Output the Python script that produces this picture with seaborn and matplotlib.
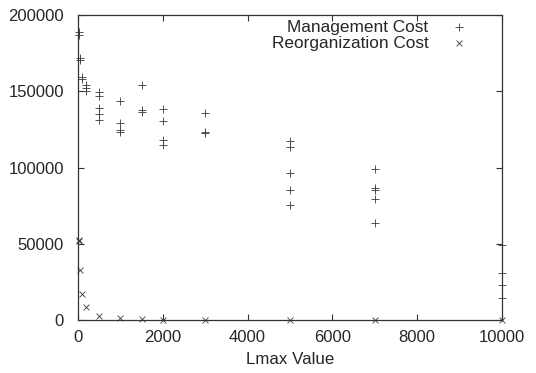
import numpy as np
import pandas as pd
import seaborn as sns
import matplotlib.pyplot as plt

# Lmax values and costs
MGMT_X = [20, 20, 50, 50, 100, 100, 200, 200, 200,
          500, 500, 500, 500, 500,
          1000, 1000, 1000, 1000,
          1500, 1500, 1500,
          2000, 2000, 2000, 2000,
          3000, 3000, 3000,
          5000, 5000, 5000, 5000, 5000,
          7000, 7000, 7000, 7000, 7000,
          10000, 10000, 10000, 10000]
MGMT_COST = [188800, 187100, 171600, 170500, 159100, 158000, 154100, 151900, 150400,
             149700, 147100, 139200, 134900, 131100,
             143400, 129400, 124600, 123500,
             154100, 137700, 136600,
             138400, 130300, 118000, 114900,
             135500, 123100, 122600,
             117400, 113200, 96200, 85000, 75400,
             98800, 86300, 85200, 79500, 63600,
             49200, 30600, 22700, 14400]

REORG_X = [20, 20, 50, 100, 200, 500, 1000, 1500, 2000, 3000, 5000, 7000, 10000]
REORG_COST = [52400, 51700, 32800, 16800, 8500, 2800, 1100, 500, 300, 100, 50, 20, 0]

X_TICKS = [0, 2000, 4000, 6000, 8000, 10000]
Y_TICKS = [0, 50000, 100000, 150000, 200000]

mgmt = pd.DataFrame({'Lmax': MGMT_X, 'Cost': MGMT_COST})
reorg = pd.DataFrame({'Lmax': REORG_X, 'Cost': REORG_COST})

sns.set_style('ticks')
plt.rcParams['font.family'] = ['Liberation Sans', 'DejaVu Sans']
plt.rcParams['font.size'] = 12

fig = plt.figure(figsize=(5.36, 3.73), dpi=100)
ax = fig.add_axes([78 / 536, 1 - 320 / 373, 424 / 536, 305 / 373])

sns.scatterplot(data=mgmt, x='Lmax', y='Cost', marker='+', color='#3a3a3a',
                s=32, linewidth=0.6, label='Management Cost', ax=ax, clip_on=False)
sns.scatterplot(data=reorg, x='Lmax', y='Cost', marker='x', color='#3a3a3a',
                s=18, linewidth=0.6, label='Reorganization Cost', ax=ax, clip_on=False)

ax.set_xlim(0, 10000)
ax.set_ylim(0, 200000)
ax.set_xticks(X_TICKS)
ax.set_yticks(Y_TICKS)
ax.set_xticklabels([str(v) for v in X_TICKS])
ax.set_yticklabels([str(v) for v in Y_TICKS])
ax.set_xlabel('Lmax Value', fontsize=12.2, labelpad=5)
ax.set_ylabel('')

for side in ['top', 'right', 'bottom', 'left']:
    ax.spines[side].set_visible(True)
    ax.spines[side].set_linewidth(0.9)
    ax.spines[side].set_color('#333333')
ax.tick_params(direction='in', length=4.5, width=0.8, color='#333333',
               top=True, right=True, labelsize=12)
ax.tick_params(axis='x', pad=7)
ax.tick_params(axis='y', pad=10)

ax.legend(loc='upper right', bbox_to_anchor=(0.94, 0.985), frameon=False,
          markerfirst=False, borderpad=0, borderaxespad=0, handlelength=2,
          handletextpad=0.8, labelspacing=0.05, fontsize=12.4)

fig.savefig('out.png', dpi=100)
